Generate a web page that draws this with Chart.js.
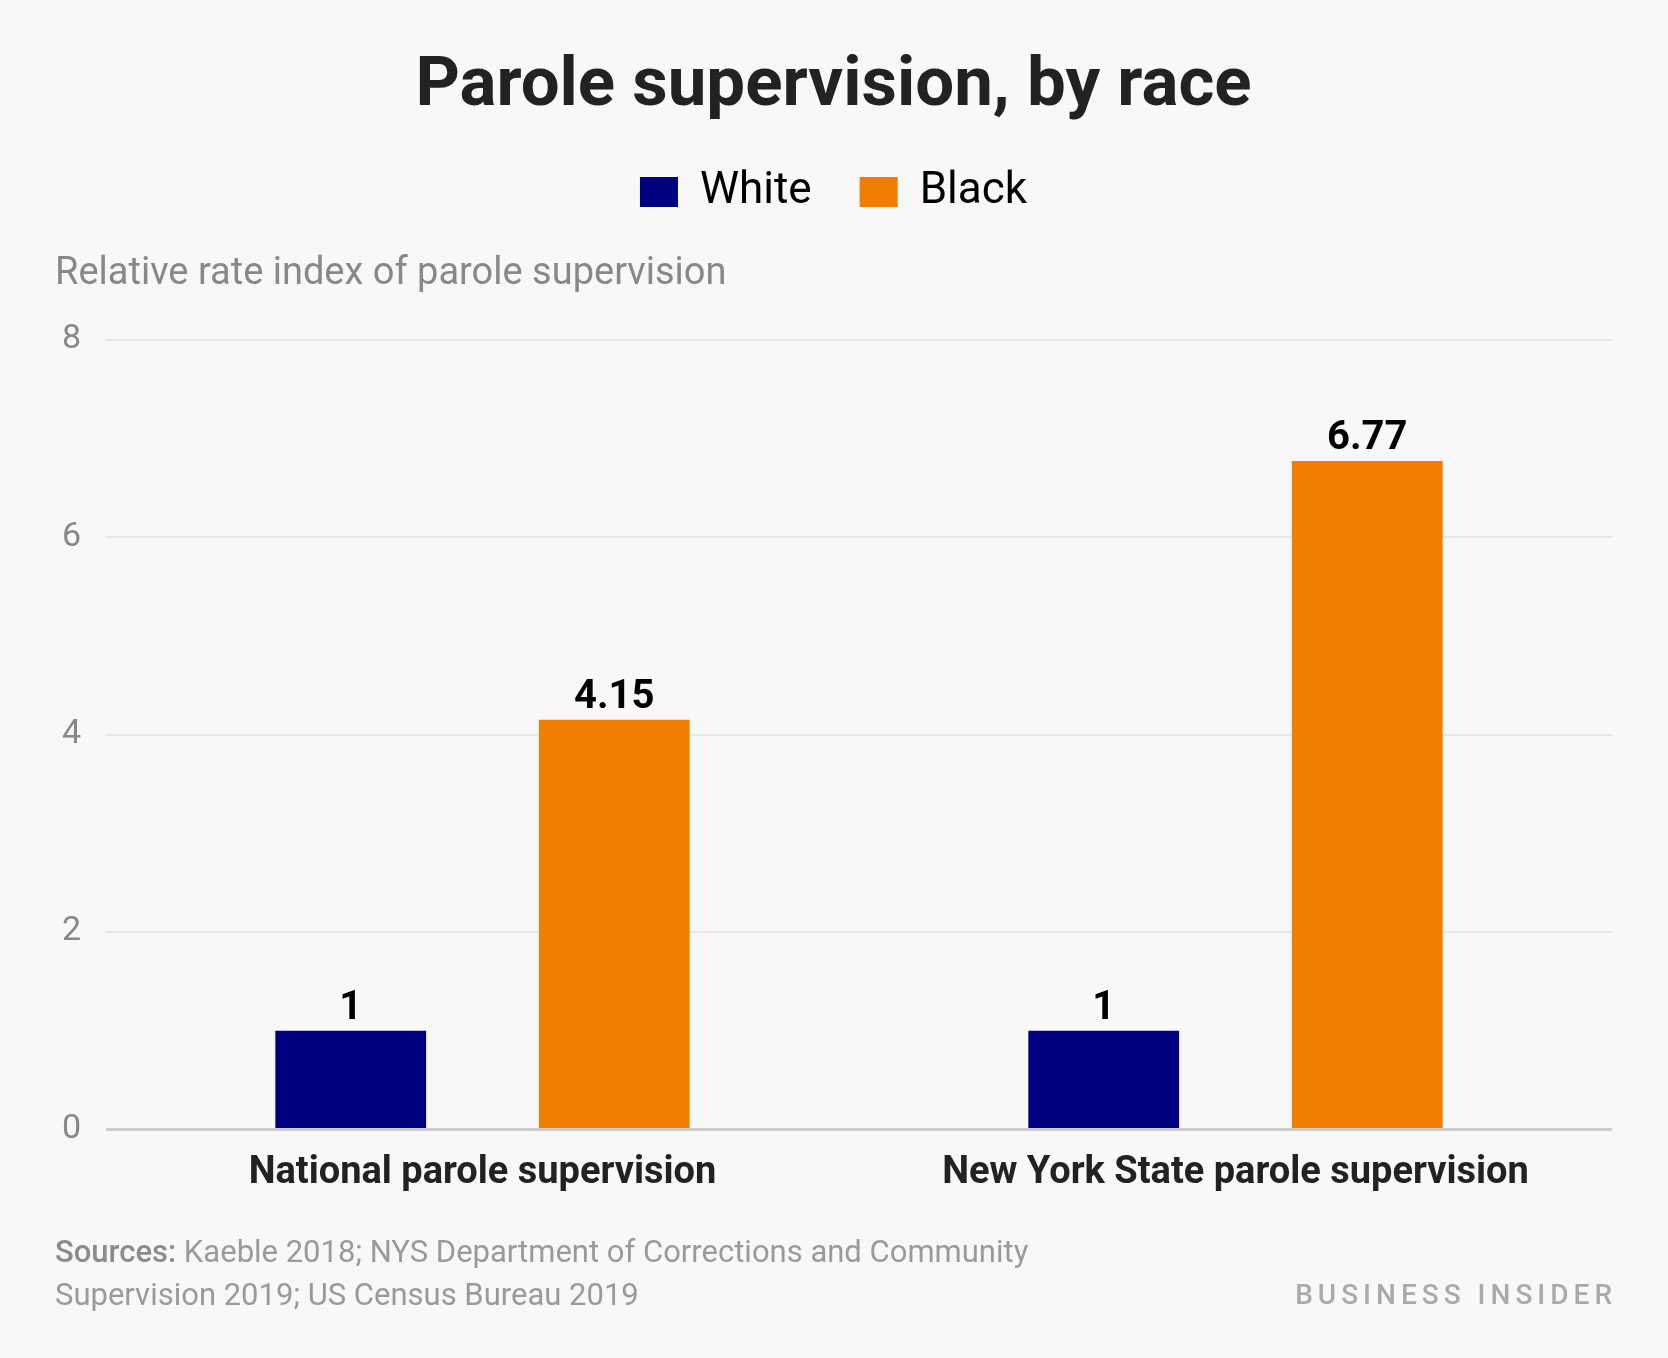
<!DOCTYPE html>
<html>
<head>
<meta charset="utf-8">
<title>Parole supervision, by race</title>
<script src="https://cdn.jsdelivr.net/npm/chart.js@4.4.1/dist/chart.umd.min.js"></script>
<style>
  html, body { margin: 0; padding: 0; background: #f8f8f8; }
  #wrap { width: 1668px; height: 1358px; }
</style>
</head>
<body>
<div id="wrap"><canvas id="paroleChart" width="1668" height="1358"></canvas></div>
<script>
// Data
const categories = ["National parole supervision", "New York State parole supervision"];
const seriesNames = ["White", "Black"];
const whiteValues = [1, 1];
const blackValues = [4.15, 6.77];
const yTicks = [0, 2, 4, 6, 8];

const FONT = "Roboto";

// Value labels above each bar
const barLabels = {
  id: "barLabels",
  afterDatasetsDraw(chart) {
    const ctx = chart.ctx;
    ctx.save();
    ctx.font = "bold 40px " + FONT;
    ctx.fillStyle = "#000";
    ctx.textAlign = "center";
    ctx.textBaseline = "alphabetic";
    chart.data.datasets.forEach((ds, i) => {
      chart.getDatasetMeta(i).data.forEach((bar, j) => {
        ctx.fillText(String(ds.data[j]), bar.x, bar.y - 12);
      });
    });
    ctx.restore();
  }
};

// Sources note and logo under the chart
const footer = {
  id: "footer",
  afterDraw(chart) {
    const ctx = chart.ctx;
    ctx.save();
    ctx.textBaseline = "middle";
    ctx.textAlign = "left";
    ctx.fillStyle = "#8c8c8c";
    ctx.font = "500 31px " + FONT;
    const lead = "Sources:";
    ctx.fillText(lead, 55, 1254);
    const w = ctx.measureText(lead).width;
    ctx.fillStyle = "#9a9a9a";
    ctx.font = "31px " + FONT;
    ctx.fillText(" Kaeble 2018; NYS Department of Corrections and Community", 55 + w, 1254);
    ctx.fillText("Supervision 2019; US Census Bureau 2019", 55, 1297);

    ctx.fillStyle = "#aaaaaa";
    ctx.font = "500 28px " + FONT;
    ctx.textAlign = "right";
    if ("letterSpacing" in ctx) ctx.letterSpacing = "5px";
    ctx.fillText("BUSINESS INSIDER", 1617, 1297);
    ctx.restore();
  }
};

const canvas = document.getElementById("paroleChart");

new Chart(canvas, {
  type: "bar",
  data: {
    labels: categories,
    datasets: [
      {
        label: seriesNames[0],
        data: whiteValues,
        backgroundColor: "#000080",
        categoryPercentage: 0.70,
        barPercentage: 0.572,
      },
      {
        label: seriesNames[1],
        data: blackValues,
        backgroundColor: "#f27e00",
        categoryPercentage: 0.70,
        barPercentage: 0.572,
      },
    ],
  },
  options: {
    responsive: false,
    animation: false,
    layout: {
      padding: { top: 0, left: 55, right: 56, bottom: 141 },
    },
    plugins: {
      title: {
        display: true,
        text: "Parole supervision, by race",
        color: "#222",
        font: { family: FONT, size: 69, weight: "bold", lineHeight: 1.0 },
        padding: { top: 53, bottom: 0 },
      },
      legend: {
        display: true,
        position: "top",
        labels: {
          color: "#000",
          font: { family: FONT, size: 44 },
          boxWidth: 38,
          boxHeight: 30,
          padding: 48,
        },
      },
      subtitle: {
        display: true,
        text: "Relative rate index of parole supervision",
        align: "start",
        weight: 500,
        color: "#888",
        font: { family: FONT, size: 38, lineHeight: 1.2 },
        padding: { top: 28, bottom: 42 },
      },
      tooltip: { enabled: false },
    },
    scales: {
      x: {
        grid: { display: false, drawTicks: false },
        border: { display: false },
        ticks: {
          color: "#222",
          font: { family: FONT, size: 38, weight: "bold", lineHeight: 1.2 },
          padding: 21,
        },
      },
      y: {
        min: 0,
        max: 8,
        afterBuildTicks: (scale) => {
          scale.ticks = yTicks.map((v) => ({ value: v }));
        },
        afterFit: (scale) => {
          scale.width = 51;
        },
        grid: {
          drawTicks: false,
          color: (c) => (c.tick && c.tick.value === 0 ? "#cccccc" : "#e6e6e6"),
          lineWidth: (c) => (c.tick && c.tick.value === 0 ? 3 : 2),
        },
        border: { display: false },
        ticks: {
          color: "#888",
          font: { family: FONT, size: 34 },
          padding: 25,
        },
      },
    },
  },
  plugins: [barLabels, footer],
});
</script>
</body>
</html>
